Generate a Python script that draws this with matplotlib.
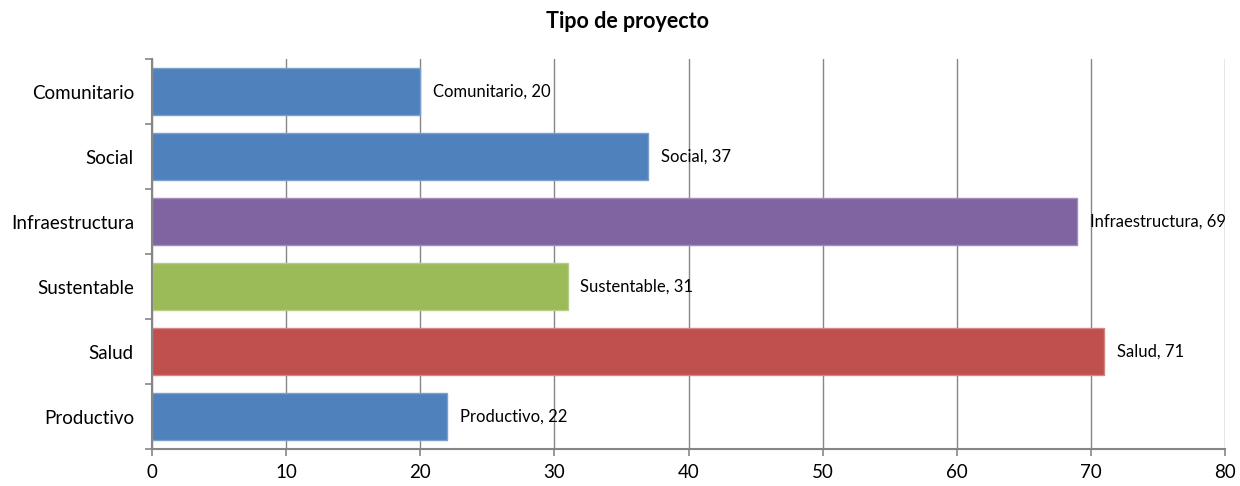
import matplotlib
matplotlib.use("Agg")
import matplotlib.pyplot as plt

# categories from top to bottom as shown in the chart
categories = ["Comunitario", "Social", "Infraestructura", "Sustentable", "Salud", "Productivo"]
values = [20, 37, 69, 31, 71, 22]
bar_colors = ["#4F81BD", "#4F81BD", "#8064A2", "#9BBB59", "#C0504D", "#4F81BD"]
edge_colors = ["#7BA0CD", "#7BA0CD", "#A08CBD", "#B5CD85", "#D68583", "#7BA0CD"]
x_ticks = [0, 10, 20, 30, 40, 50, 60, 70, 80]

plt.rcParams['font.family'] = ['Lato', 'DejaVu Sans']

fig = plt.figure(figsize=(12.4, 4.86), dpi=100)
ax = fig.add_axes([152 / 1240, 37 / 486, 1073 / 1240, 390 / 486])

# bottom-to-top plotting order
pos = list(range(len(categories)))[::-1]
ax.barh(pos, values, height=0.71, color=bar_colors, edgecolor=edge_colors,
        linewidth=1, zorder=3)

for p, cat, v in zip(pos, categories, values):
    ax.annotate(f"{cat}, {v}", xy=(v, p), xytext=(9, 0), textcoords="offset points",
                va="center", ha="left", fontsize=12, color="black", zorder=4)

ax.set_xlim(0, 80)
ax.set_ylim(-0.5, len(categories) - 0.5)
ax.set_xticks(x_ticks)
ax.set_xticklabels([str(t) for t in x_ticks], fontsize=13.5)

# category labels at the centre, tick marks at band boundaries
ax.set_yticks(pos)
ax.set_yticklabels(categories, fontsize=13.5)
ax.tick_params(axis='y', which='major', length=0, pad=13)
ax.set_yticks([i - 0.5 for i in range(len(categories) + 1)], minor=True)
ax.tick_params(axis='y', which='minor', length=5, width=1.2, color="#868686", direction="out")
ax.tick_params(axis='x', length=5, width=1.2, color="#868686", direction="out", pad=6)

ax.grid(axis='x', color="#868686", linewidth=1, zorder=0)
ax.set_axisbelow(True)

for side in ["top", "right"]:
    ax.spines[side].set_visible(False)
for side in ["left", "bottom"]:
    ax.spines[side].set_color("#868686")
    ax.spines[side].set_linewidth(1.5)
    ax.spines[side].set_zorder(5)

fig.text(628 / 1240, 1 - 21 / 486, "Tipo de proyecto", ha="center", va="center",
         fontsize=15.5, fontweight="bold")

fig.savefig("out.png", dpi=100)
